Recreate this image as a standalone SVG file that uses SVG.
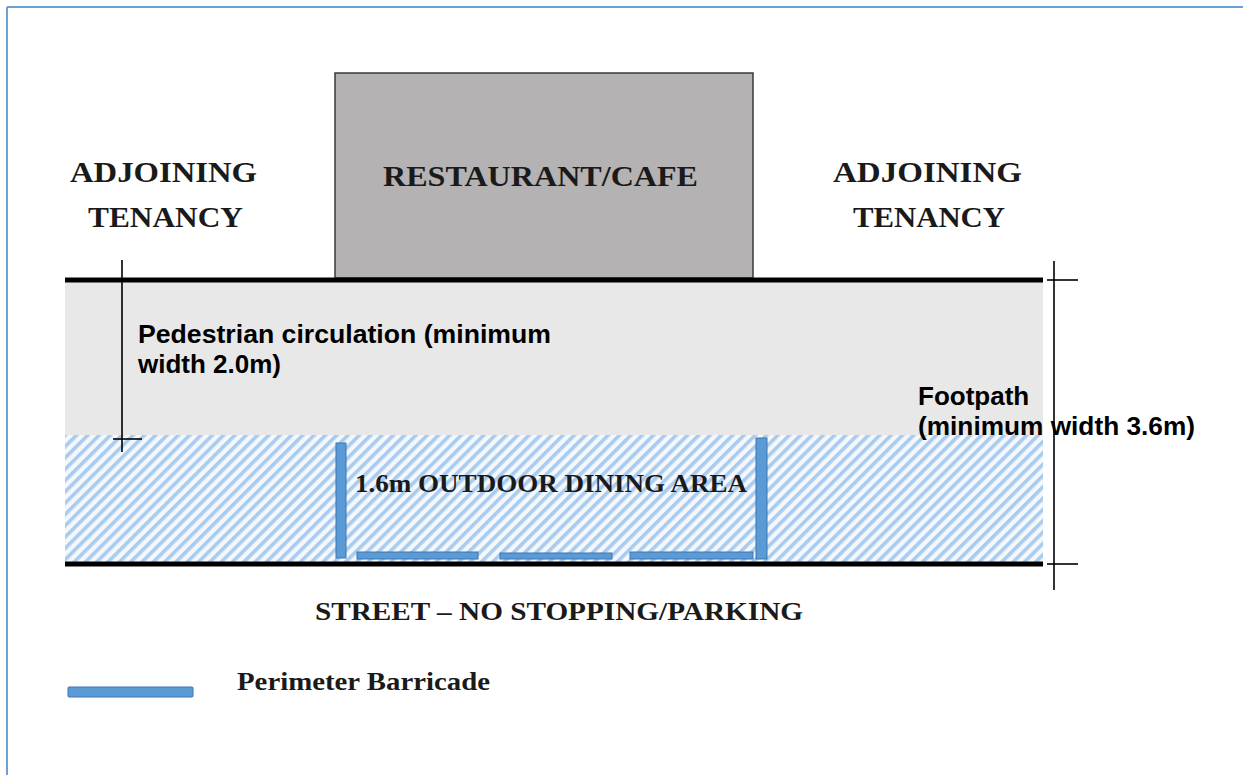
<svg xmlns="http://www.w3.org/2000/svg" width="1243" height="775" viewBox="0 0 1243 775">
  <style>
    .serif { font-family: "Liberation Serif", "Times New Roman", serif; font-weight: bold; fill: #1a1a1a; }
    .sans { font-family: "Liberation Sans", Arial, sans-serif; font-weight: bold; fill: #000; font-size: 26px; }
    .barr { fill: #5b9bd5; stroke: #3d74b4; stroke-width: 1; }
    .kerb { stroke: #000; stroke-width: 5; }
    .dim { stroke: #000; stroke-width: 1.6; fill: none; }
  </style>
  <defs>
    <pattern id="hatch" width="8" height="8" patternUnits="userSpaceOnUse" patternTransform="rotate(45)">
      <rect width="8" height="8" fill="#f4f8fd"/>
      <rect x="0" y="0" width="3.6" height="8" fill="#a9cbee"/>
    </pattern>
  </defs>
  <rect width="1243" height="775" fill="#ffffff"/>
  <g id="frame">
    <line x1="7" y1="7" x2="1243" y2="7" stroke="#6a9fd8" stroke-width="2"/>
    <line x1="7" y1="7" x2="7" y2="775" stroke="#6a9fd8" stroke-width="2"/>
  </g>

  <g id="footpath">
    <rect x="65" y="282" width="978" height="154" fill="#e8e8e8"/>
    <rect x="65" y="435" width="978" height="128" fill="url(#hatch)"/>
  </g>

  <g id="restaurant">
    <rect x="335" y="73" width="418" height="205" fill="#b4b2b2" stroke="#3a3a3a" stroke-width="1.5"/>
    <text class="serif" x="383" y="186" font-size="30" textLength="315" lengthAdjust="spacingAndGlyphs">RESTAURANT/CAFE</text>
  </g>

  <g id="adjoining-left">
    <text class="serif" x="70" y="182" font-size="30" textLength="187" lengthAdjust="spacingAndGlyphs">ADJOINING</text>
    <text class="serif" x="88" y="227" font-size="30" textLength="155" lengthAdjust="spacingAndGlyphs">TENANCY</text>
  </g>

  <g id="adjoining-right">
    <text class="serif" x="833" y="182" font-size="30" textLength="189" lengthAdjust="spacingAndGlyphs">ADJOINING</text>
    <text class="serif" x="853" y="227" font-size="30" textLength="152" lengthAdjust="spacingAndGlyphs">TENANCY</text>
  </g>

  <g id="kerbs">
    <line class="kerb" x1="65" y1="280" x2="1043" y2="280"/>
    <line class="kerb" x1="65" y1="564" x2="1043" y2="564"/>
  </g>

  <g id="dining-area">
    <rect class="barr" x="336" y="443" width="10" height="115"/>
    <rect class="barr" x="756" y="438" width="11" height="121"/>
    <rect class="barr" x="357" y="552" width="121" height="7"/>
    <rect class="barr" x="500" y="553" width="112" height="6"/>
    <rect class="barr" x="630" y="552" width="123" height="7"/>
    <text class="serif" x="355" y="492" font-size="25" textLength="392" lengthAdjust="spacingAndGlyphs">1.6m OUTDOOR DINING AREA</text>
  </g>

  <g id="connectors">
    <line class="dim" x1="122" y1="260" x2="122" y2="452"/>
    <line class="dim" x1="113" y1="439" x2="142" y2="439"/>
    <line class="dim" x1="1054" y1="261" x2="1054" y2="590"/>
    <line class="dim" x1="1047" y1="280" x2="1078" y2="280"/>
    <line class="dim" x1="1047" y1="564" x2="1078" y2="564"/>
  </g>

  <g id="pedestrian-label">
    <text class="sans" x="138" y="343" textLength="413" lengthAdjust="spacingAndGlyphs">Pedestrian circulation (minimum</text>
    <text class="sans" x="138" y="373">width 2.0m)</text>
  </g>

  <g id="footpath-label">
    <text class="sans" x="918" y="405">Footpath</text>
    <text class="sans" x="918" y="435" textLength="277" lengthAdjust="spacingAndGlyphs">(minimum width 3.6m)</text>
  </g>

  <g id="street">
    <text class="serif" x="315" y="620" font-size="26" textLength="488" lengthAdjust="spacingAndGlyphs">STREET – NO STOPPING/PARKING</text>
  </g>

  <g id="legend">
    <rect class="barr" x="68" y="687" width="125" height="10" rx="1"/>
    <text class="serif" x="237" y="690" font-size="26" textLength="253" lengthAdjust="spacingAndGlyphs">Perimeter Barricade</text>
  </g>
</svg>
